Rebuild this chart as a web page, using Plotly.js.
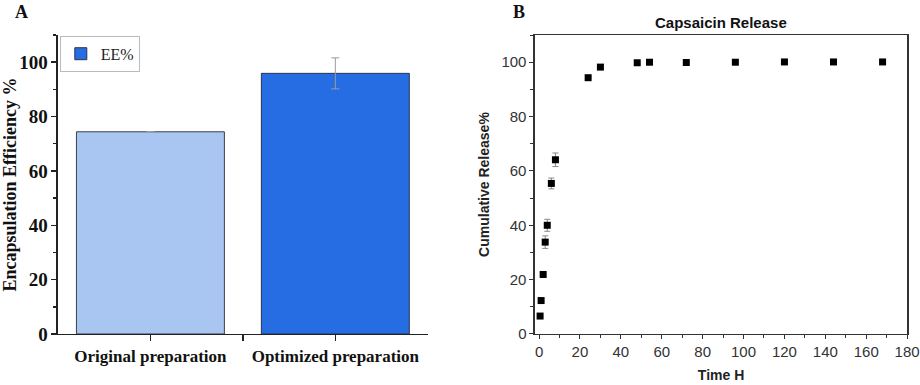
<!DOCTYPE html>
<html>
<head>
<meta charset="utf-8">
<script src="https://cdn.plot.ly/plotly-3.0.1.min.js"></script>
<style>
  html, body { margin: 0; padding: 0; background: #fff; }
  #plot { width: 920px; height: 385px; }
</style>
</head>
<body>
<div id="plot"></div>
<script>
// Panel A: encapsulation efficiency
const prepNames = ["Original preparation", "Optimized preparation"];
const eeValues = [74.4, 95.9];
const eeErrors = [0.1, 5.7];

// Panel B: capsaicin release over time
const timeH = [0.5, 1, 2, 3, 4, 6, 8, 24, 30, 48, 54, 72, 96, 120, 144, 168];
const releasePct = [6.6, 12.3, 21.9, 33.8, 40.0, 55.4, 64.1, 94.3, 98.2, 99.8, 100.0, 99.9, 100.0, 100.1, 100.1, 100.1];
const releaseErr = [0.3, 0.3, 0.5, 2.3, 2.2, 2.0, 2.5, 0.4, 0.4, 0.3, 0.3, 0.3, 0.3, 0.3, 0.3, 0.3];

const serif = "Times New Roman, Liberation Serif, serif";
const sans = "Arial, Liberation Sans, sans-serif";

const prepPos = prepNames.map((n, i) => i);

let traces = [
    {
        x: [prepPos[0]], y: [eeValues[0]],
        type: 'bar', width: 0.8, showlegend: false,
        marker: { color: '#a9c6f3', line: { color: '#3a3f4a', width: 1 } },
        error_y: { type: 'data', array: [eeErrors[0]], color: '#9a9a9a', thickness: 1, width: 4 },
        xaxis: 'x', yaxis: 'y'
    },
    {
        x: [prepPos[1]], y: [eeValues[1]],
        type: 'bar', width: 0.8, name: 'EE%',
        marker: { color: '#266de3', line: { color: '#2a3550', width: 1 } },
        error_y: { type: 'data', array: [eeErrors[1]], color: '#9a9a9a', thickness: 1, width: 4 },
        xaxis: 'x', yaxis: 'y'
    },
    {
        x: timeH, y: releasePct,
        type: 'scatter', mode: 'markers', showlegend: false,
        marker: { symbol: 'square', size: 7, color: '#000' },
        error_y: { type: 'data', array: releaseErr, color: '#888', thickness: 1, width: 3 },
        xaxis: 'x2', yaxis: 'y2'
    }
];

let layout = {
    width: 920, height: 385,
    margin: { l: 0, r: 0, t: 0, b: 0 },
    paper_bgcolor: '#fff', plot_bgcolor: '#fff',
    barmode: 'overlay',
    showlegend: true,
    legend: {
        x: 0.065, y: 0.907, xanchor: 'left', yanchor: 'top',
        bgcolor: '#fff', bordercolor: '#bbb', borderwidth: 1,
        font: { family: serif, size: 16, color: '#222' }
    },
    xaxis: {
        domain: [0.063, 0.465], range: [-0.5, 1.5],
        tickvals: [prepPos[0], 0.5, prepPos[1]],
        ticktext: [prepNames[0], '', prepNames[1]],
        ticks: 'outside', ticklen: 6, tickcolor: '#222', tickwidth: 1.5,
        showline: true, linecolor: '#222', linewidth: 1.5,
        showgrid: false, zeroline: false,
        tickfont: { family: serif, size: 17, color: '#111', weight: 'bold' },
        anchor: 'y'
    },
    yaxis: {
        domain: [0.1325, 0.909], range: [0, 110],
        dtick: 20, ticks: 'outside', ticklen: 5, tickcolor: '#222', tickwidth: 1.5,
        minor: { dtick: 10, ticks: 'outside', ticklen: 3, tickcolor: '#222' },
        showline: true, linecolor: '#222', linewidth: 1.5,
        showgrid: false, zeroline: false,
        tickfont: { family: serif, size: 19, color: '#111', weight: 'bold' },
        title: { text: 'Encapsulation Efficiency %', standoff: 8,
                 font: { family: serif, size: 18, color: '#111', weight: 'bold' } },
        anchor: 'x'
    },
    xaxis2: {
        domain: [0.5815, 0.986], range: [-2, 180],
        dtick: 20, ticks: 'outside', ticklen: 4, tickcolor: '#333',
        minor: { dtick: 10, ticks: 'outside', ticklen: 3, tickcolor: '#333' },
        showline: true, mirror: true, linecolor: '#333', linewidth: 1.5,
        showgrid: false, zeroline: false,
        tickfont: { family: sans, size: 15, color: '#333' },
        title: { text: 'Time H', standoff: 10,
                 font: { family: sans, size: 14, color: '#222', weight: 'bold' } },
        anchor: 'y2'
    },
    yaxis2: {
        domain: [0.1325, 0.909], range: [0, 110],
        dtick: 20, ticks: 'outside', ticklen: 4, tickcolor: '#333',
        minor: { dtick: 10, ticks: 'outside', ticklen: 3, tickcolor: '#333' },
        showline: true, mirror: true, linecolor: '#333', linewidth: 1.5,
        showgrid: false, zeroline: false,
        tickfont: { family: sans, size: 15, color: '#333' },
        title: { text: 'Cumulative Release%', standoff: 8,
                 font: { family: sans, size: 14, color: '#222', weight: 'bold' } },
        anchor: 'x2'
    },
    annotations: [
        { text: 'A', xref: 'paper', yref: 'paper', x: 0.014, y: 1.0, xanchor: 'left', yanchor: 'top',
          showarrow: false, font: { family: serif, size: 18, color: '#111', weight: 'bold' } },
        { text: 'B', xref: 'paper', yref: 'paper', x: 0.555, y: 1.0, xanchor: 'left', yanchor: 'top',
          showarrow: false, font: { family: serif, size: 18, color: '#111', weight: 'bold' } },
        { text: 'Capsaicin Release', xref: 'paper', yref: 'paper', x: 0.7838, y: 0.913, xanchor: 'center', yanchor: 'bottom',
          showarrow: false, font: { family: sans, size: 15, color: '#111', weight: 'bold' } }
    ]
};

Plotly.newPlot('plot', traces, layout, { displayModeBar: false, staticPlot: true });
</script>
</body>
</html>
